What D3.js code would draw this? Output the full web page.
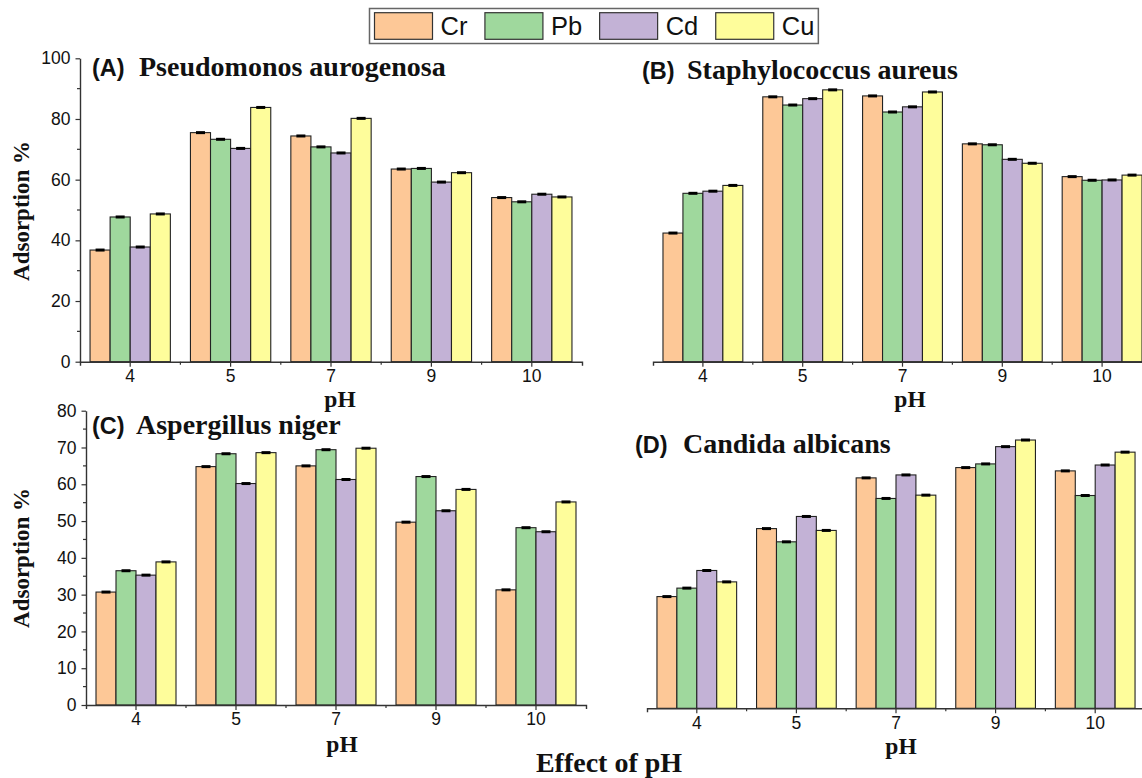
<!DOCTYPE html>
<html>
<head>
<meta charset="utf-8">
<script src="https://cdn.jsdelivr.net/npm/d3@7"></script>
<style>
  body { margin: 0; background: #fff; }
  svg { display: block; }
</style>
</head>
<body>
<div id="chart"></div>
<script>
// Effect of pH on metal adsorption by four organisms (bar chart, 2x2 panels)

const phLevels = ["4", "5", "7", "9", "10"];
const metals = ["Cr", "Pb", "Cd", "Cu"];
const metalColors = ["#FDC897", "#9FD89D", "#C3B2D6", "#FEFD9B"];

// adsorption % per metal, in pH order
const pseudomonas = {
  Cr: [36.8, 75.5, 74.4, 63.5, 54.1],
  Pb: [47.7, 73.3, 70.8, 63.7, 52.7],
  Cd: [37.8, 70.3, 68.8, 59.2, 55.2],
  Cu: [48.7, 83.8, 80.2, 62.3, 54.3]
};
const staphylococcus = {
  Cr: [42.4, 87.3, 87.6, 71.8, 61.0],
  Pb: [55.5, 84.6, 82.3, 71.5, 59.8],
  Cd: [56.2, 86.7, 84.0, 66.7, 59.9],
  Cu: [58.1, 89.6, 88.9, 65.4, 61.5]
};
const aspergillus = {
  Cr: [30.7, 64.8, 65.0, 49.7, 31.3],
  Pb: [36.5, 68.3, 69.4, 62.1, 48.2],
  Cd: [35.3, 60.2, 61.3, 52.8, 47.1],
  Cu: [38.9, 68.6, 69.8, 58.6, 55.2]
};
const candida = {
  Cr: [30.4, 48.9, 62.7, 65.5, 64.6],
  Pb: [32.7, 45.3, 57.1, 66.5, 57.9],
  Cd: [37.5, 52.2, 63.5, 71.2, 66.2],
  Cu: [34.4, 48.4, 58.0, 73.0, 69.7]
};

const ticksAB = [0, 20, 40, 60, 80, 100];
const ticksCD = [0, 10, 20, 30, 40, 50, 60, 70, 80];

const SANS = "'Liberation Sans', Arial, sans-serif";
const SERIF = "'Liberation Serif', 'Times New Roman', serif";

const width = 1142, height = 778;

const svg = d3.select("#chart").append("svg")
  .attr("width", width)
  .attr("height", height);

const panels = [
  { data: pseudomonas, tag: "(A)", name: "Pseudomonos aurogenosa",
    x0: 80, x1: 582, yTop: 58.3, yBot: 361.7, ymax: 100, ticks: ticksAB, minorStep: 10,
    showY: true, titleX: 92, titleGap: 47, titleY: 76, phX: 340, phY: 407, ylabY: 211 },
  { data: staphylococcus, tag: "(B)", name: "Staphylococcus aureus",
    x0: 653, x1: 1152, yTop: 58.3, yBot: 361.7, ymax: 100, ticks: ticksAB, minorStep: 10,
    showY: false, titleX: 642, titleGap: 45, titleY: 79, phX: 910, phY: 407 },
  { data: aspergillus, tag: "(C)", name: "Aspergillus niger",
    x0: 86, x1: 586, yTop: 410.7, yBot: 705, ymax: 80, ticks: ticksCD, minorStep: 5,
    showY: true, titleX: 92, titleGap: 44, titleY: 434, phX: 342, phY: 752, ylabY: 558 },
  { data: candida, tag: "(D)", name: "Candida albicans",
    x0: 647, x1: 1145, yTop: 414.3, yBot: 708.3, ymax: 80, ticks: ticksCD, minorStep: 5,
    showY: false, titleX: 635, titleGap: 48, titleY: 453, phX: 901, phY: 754 }
];

panels.forEach(p => {
  const g = svg.append("g");

  const x = d3.scaleBand()
    .domain(phLevels)
    .range([p.x0, p.x1])
    .paddingInner(0.2)
    .paddingOuter(0.1);

  const xInner = d3.scaleBand()
    .domain(metals)
    .range([0, x.bandwidth()]);

  const y = d3.scaleLinear()
    .domain([0, p.ymax])
    .range([p.yBot, p.yTop]);

  // bars
  metals.forEach((m, mi) => {
    g.selectAll(null)
      .data(p.data[m].map((v, i) => ({ ph: phLevels[i], v })))
      .join("rect")
      .attr("x", d => x(d.ph) + xInner(m))
      .attr("y", d => y(d.v))
      .attr("width", xInner.bandwidth())
      .attr("height", d => y(0) - y(d.v))
      .attr("fill", metalColors[mi])
      .attr("stroke", "#222")
      .attr("stroke-width", 1.1);

    // error caps
    g.selectAll(null)
      .data(p.data[m].map((v, i) => ({ ph: phLevels[i], v })))
      .join("line")
      .attr("x1", d => x(d.ph) + xInner(m) + xInner.bandwidth() / 2 - 4.5)
      .attr("x2", d => x(d.ph) + xInner(m) + xInner.bandwidth() / 2 + 4.5)
      .attr("y1", d => y(d.v))
      .attr("y2", d => y(d.v))
      .attr("stroke", "#000")
      .attr("stroke-width", 3);
  });

  // x axis
  const xAxis = g.append("g")
    .attr("transform", `translate(0,${p.yBot})`)
    .call(d3.axisBottom(x).tickSize(5).tickSizeOuter(4).tickPadding(3));
  xAxis.select(".domain").attr("stroke", "#333").attr("stroke-width", 1.4);
  xAxis.selectAll(".tick line").attr("stroke", "#333").attr("stroke-width", 1.2);
  xAxis.selectAll(".tick text")
    .style("font-family", SANS).style("font-size", "17.5px").attr("fill", "#111");

  // minor x ticks between groups
  g.selectAll(null)
    .data(phLevels.slice(0, -1))
    .join("line")
    .attr("x1", d => x(d) + x.bandwidth() / 2 + x.step() / 2)
    .attr("x2", d => x(d) + x.bandwidth() / 2 + x.step() / 2)
    .attr("y1", p.yBot)
    .attr("y2", p.yBot + 3)
    .attr("stroke", "#333").attr("stroke-width", 1.2);

  // y axis
  if (p.showY) {
    const yAxis = g.append("g")
      .attr("transform", `translate(${p.x0},0)`)
      .call(d3.axisLeft(y).tickValues(p.ticks).tickSize(4.5).tickSizeOuter(0).tickPadding(5));
    yAxis.select(".domain").attr("stroke", "#333").attr("stroke-width", 1.4);
    yAxis.selectAll(".tick line").attr("stroke", "#333").attr("stroke-width", 1.2);
    yAxis.selectAll(".tick text")
      .style("font-family", SANS).style("font-size", "17.5px").attr("fill", "#111");

    const minor = d3.range(p.minorStep, p.ymax, p.minorStep * 2);
    g.selectAll(null)
      .data(minor)
      .join("line")
      .attr("x1", p.x0 - 3)
      .attr("x2", p.x0)
      .attr("y1", d => y(d))
      .attr("y2", d => y(d))
      .attr("stroke", "#333").attr("stroke-width", 1.2);

    g.append("text")
      .attr("transform", `translate(29,${p.ylabY}) rotate(-90)`)
      .attr("text-anchor", "middle")
      .style("font-family", SERIF).style("font-size", "23px").style("font-weight", "bold")
      .attr("fill", "#111")
      .text("Adsorption %");
  }

  // panel title
  g.append("text")
    .attr("x", p.titleX).attr("y", p.titleY)
    .style("font-family", SANS).style("font-size", "23.5px").style("font-weight", "bold")
    .attr("fill", "#111")
    .text(p.tag);
  g.append("text")
    .attr("x", p.titleX + p.titleGap).attr("y", p.titleY)
    .style("font-family", SERIF).style("font-size", "28px").style("font-weight", "bold")
    .attr("fill", "#111")
    .text(p.name);

  // pH label
  g.append("text")
    .attr("x", p.phX).attr("y", p.phY)
    .attr("text-anchor", "middle")
    .style("font-family", SERIF).style("font-size", "23.5px").style("font-weight", "bold")
    .attr("fill", "#111")
    .text("pH");
});

// overall caption
svg.append("text")
  .attr("x", 609).attr("y", 772)
  .attr("text-anchor", "middle")
  .style("font-family", SERIF).style("font-size", "28px").style("font-weight", "bold")
  .attr("fill", "#111")
  .text("Effect of pH");

// legend
const legend = svg.append("g");
const legBox = legend.append("rect")
  .attr("x", 369.5).attr("y", 8.5).attr("height", 35)
  .attr("fill", "#fff").attr("stroke", "#666").attr("stroke-width", 1.5);

let lx = 374.5;
metals.forEach((m, i) => {
  legend.append("rect")
    .attr("x", lx).attr("y", 12.7)
    .attr("width", 58).attr("height", 26.6)
    .attr("fill", metalColors[i])
    .attr("stroke", "#333").attr("stroke-width", 1.2);
  const t = legend.append("text")
    .attr("x", lx + 66).attr("y", 35)
    .style("font-family", SANS).style("font-size", "25.5px")
    .attr("fill", "#111")
    .text(m);
  const tw = t.node().getComputedTextLength();
  lx = lx + 66 + tw + 17.5;
});
legBox.attr("width", lx - 17.5 + 4 - 369.5);
</script>
</body>
</html>
